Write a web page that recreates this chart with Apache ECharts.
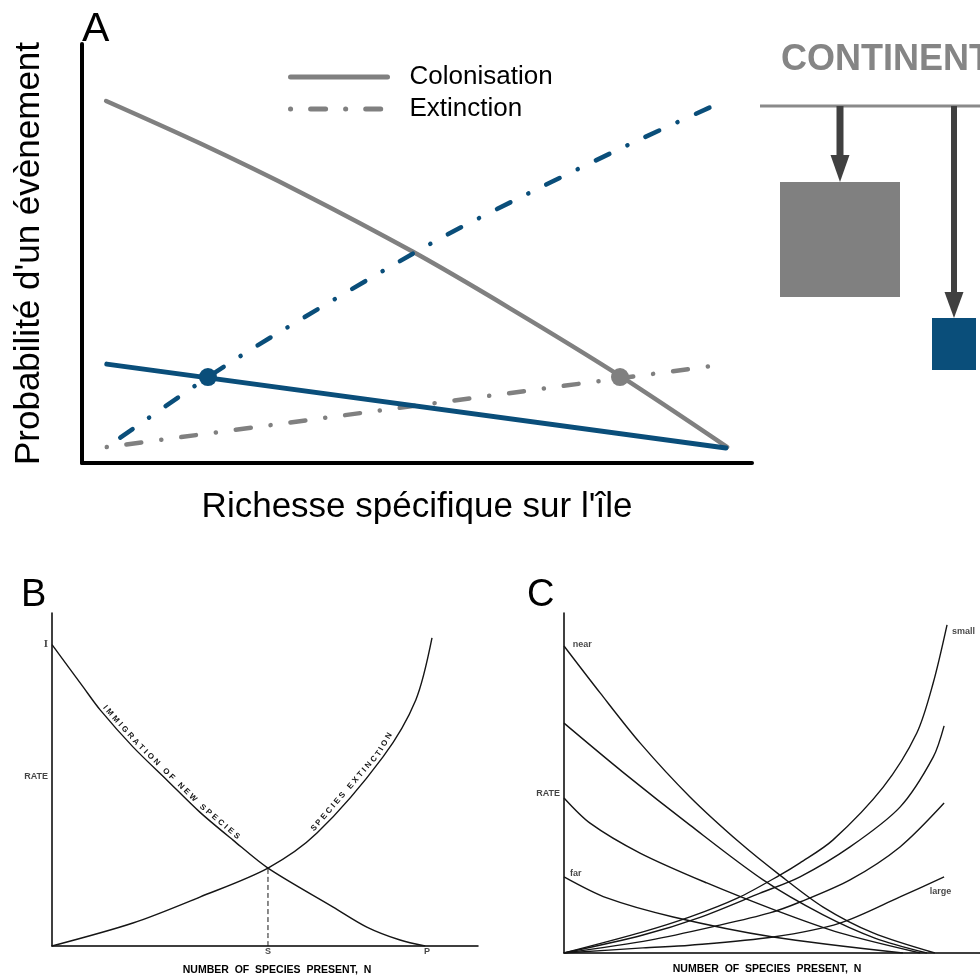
<!DOCTYPE html>
<html lang="fr">
<head>
<meta charset="utf-8">
<title>Biogéographie insulaire</title>
<script src="https://cdn.jsdelivr.net/npm/echarts@6.0.0/dist/echarts.min.js"></script>
<style>
  html, body { margin: 0; padding: 0; background: #fff; }
  #main { width: 980px; height: 977px; }
</style>
</head>
<body>
<div id="main"></div>
<script>
// ---- Panneau A (axes 0..100 sur les deux directions)
var aColGrandeX = [3.6, 17.6, 32.5, 49.4, 64.0, 80.3, 96.3];
var aColGrandeY = [86.4, 76.3, 64.7, 50.4, 36.8, 20.8, 3.8];
var aExtGrandeX = [3.7, 96.1];
var aExtGrandeY = [3.8, 23.6];
var aColPetiteX = [3.7, 96.1];
var aColPetiteY = [23.6, 3.6];
var aExtPetiteX = [3.7, 18.8, 28.5, 52.2, 66.7, 81.5, 93.9];
var aExtPetiteY = [3.8, 20.5, 30.3, 52.5, 64.4, 75.9, 85.0];
var aEquilibreX = [18.8, 80.3];   // petite île, grande île
var aEquilibreY = [20.5, 20.5];

// ---- Panneau B
var bImmX = [0, 7.3, 11.3, 19.0, 27.0, 34.7, 42.5, 50.7, 66.0, 73.9, 81.7, 87.6];
var bImmY = [90.5, 77.8, 70.9, 59.8, 49.8, 40.2, 31.8, 23.4, 11.7, 5.7, 1.8, 0];
var bExtX = [0, 19.0, 34.7, 50.7, 62.2, 77.7, 85.4, 89.2];
var bExtY = [0, 6.9, 14.7, 23.4, 33.9, 56.8, 73.9, 92.5];
var bEquilibre = [50.7, 23.4];
var bReperesX = ['S', 'P'];
var bReperesPos = [50.7, 88];
var bReperesY = ['I', 'RATE'];
var bReperesYPos = [90.5, 50.8];

// ---- Panneau C
var cImmNearX = [0, 8.6, 18.1, 30, 41.9, 51.4, 61.7, 73.6, 88.3];
var cImmNearY = [90.3, 76.5, 61.8, 45.9, 32.4, 22.9, 13.5, 5.9, 0];
var cImm2X = [0, 14.0, 30, 47.4, 61.7, 74, 86.4];
var cImm2Y = [67.6, 53.2, 37.6, 21.5, 11.2, 4.4, 0];
var cImm3X = [0, 6.2, 18.1, 34, 50.7, 65.7, 84.8];
var cImm3Y = [45.6, 38.2, 29.4, 20.6, 12.4, 5.9, 0];
var cImmFarX = [0, 10.2, 26, 49.8, 80.7];
var cImmFarY = [22.4, 16.2, 10.6, 4.7, 0];
var cExtSmallX = [0, 18.8, 30, 41.4, 51.4, 56.2, 64, 76, 84, 87.9, 91.2];
var cExtSmallY = [0, 6.2, 10.6, 16.2, 22.9, 26.5, 33.2, 48.8, 64.7, 79.4, 96.5];
var cExt2X = [0, 18.8, 32.4, 46.7, 56.2, 68.1, 80, 87.9, 90.5];
var cExt2Y = [0, 5.3, 10.5, 17.6, 22.4, 31.2, 42.9, 57.6, 66.8];
var cExt3X = [0, 20.5, 37.1, 49, 56.2, 68.1, 80, 90.5];
var cExt3Y = [0, 3.8, 8.2, 11.8, 15, 21.5, 31.2, 44.1];
var cExtLargeX = [0, 18.8, 30, 49.8, 65.7, 80, 90.5];
var cExtLargeY = [0, 1.5, 2.3, 4.7, 8.8, 16.5, 22.4];
var cEtiquettes = ['near', 'far', 'small', 'large'];
var cEtiqX = [2.1, 1.4, 92.4, 87.1];
var cEtiqY = [90.6, 23.5, 94.7, 18.2];
var cRate = 47;

var BLEU = '#0a4e7a', GRIS = '#808080', ENCRE = '#151515';
var POLICE = '"Liberation Sans", Arial, Helvetica, sans-serif';
var TIRET_POINT = [0.1, 20, 15, 20];

var chart = echarts.init(document.getElementById('main'));

function zip(xs, ys) {
    return xs.map(function (x, i) { return [x, ys[i]]; });
}

// axe sans graduation, juste le trait
function axe(grille, epaisseur, nom, gap, taillePolice, gras, pad) {
    return {
        type: 'value', gridIndex: grille, min: 0, max: 100,
        axisLine: { show: true, onZero: false, lineStyle: { color: '#000', width: epaisseur } },
        axisTick: { show: false }, axisLabel: { show: false }, splitLine: { show: false },
        name: nom, nameLocation: 'middle', nameGap: gap,
        nameTextStyle: { fontFamily: POLICE, fontSize: taillePolice, color: '#000',
                         fontWeight: gras ? 'bold' : 'normal', padding: pad || 0 }
    };
}

function courbe(nom, grille, xs, ys, style) {
    return {
        name: nom, type: 'line', xAxisIndex: grille, yAxisIndex: grille,
        data: zip(xs, ys), smooth: 0.3, symbol: 'none', silent: true,
        lineStyle: style, itemStyle: { color: style.color }
    };
}

var traitB = { color: ENCRE, width: 1.4 };

function reperes(grille, items) {
    return {
        type: 'scatter', xAxisIndex: grille, yAxisIndex: grille, symbolSize: 0, silent: true,
        data: items,
        label: { show: true, formatter: '{b}', color: ENCRE, fontFamily: POLICE,
                 fontWeight: 'bold', fontSize: 9 }
    };
}

var bItems = bReperesX.map(function (n, i) {
    return { name: n, value: [bReperesPos[i], 0], label: { position: 'bottom', distance: 1 } };
}).concat(bReperesY.map(function (n, i) {
    return { name: n, value: [0, bReperesYPos[i]],
             label: { position: 'left', distance: 4,
                      fontFamily: n === 'I' ? '"Liberation Serif", serif' : POLICE,
                      fontSize: n === 'I' ? 11 : 9 } };
}));
var cItems = cEtiquettes.map(function (n, i) {
    return { name: n, value: [cEtiqX[i], cEtiqY[i]], label: { position: 'right', distance: 0 } };
}).concat([{ name: 'RATE', value: [0, cRate], label: { position: 'left', distance: 4 } }]);

// schéma du continent (décor)
var schema = [
    { type: 'text', id: 'continent', x: 781, y: 60, silent: true,
      style: { text: 'CONTINENT', font: 'bold 36px ' + POLICE, fill: '#858585', verticalAlign: 'middle' } },
    { type: 'line', id: 'cote', silent: true, shape: { x1: 760, y1: 106, x2: 990, y2: 106 },
      style: { stroke: '#8a8a8a', lineWidth: 3 } },
    { type: 'line', id: 'fleche1', silent: true, shape: { x1: 840, y1: 106, x2: 840, y2: 160 },
      style: { stroke: '#404040', lineWidth: 7 } },
    { type: 'polygon', id: 'pointe1', silent: true, shape: { points: [[830.5, 155], [849.5, 155], [840, 182]] },
      style: { fill: '#404040' } },
    { type: 'rect', id: 'grandeIle', silent: true, shape: { x: 780, y: 182, width: 120, height: 115 },
      style: { fill: GRIS } },
    { type: 'line', id: 'fleche2', silent: true, shape: { x1: 954, y1: 106, x2: 954, y2: 296 },
      style: { stroke: '#404040', lineWidth: 6 } },
    { type: 'polygon', id: 'pointe2', silent: true, shape: { points: [[944.5, 292], [963.5, 292], [954, 318]] },
      style: { fill: '#404040' } },
    { type: 'rect', id: 'petiteIle', silent: true, shape: { x: 932, y: 318, width: 44, height: 52 },
      style: { fill: BLEU } },
    { type: 'text', id: 'lettreA', x: 82, y: 30, silent: true,
      style: { text: 'A', font: '41px ' + POLICE, fill: '#000', verticalAlign: 'middle' } },
    { type: 'text', id: 'lettreB', x: 21, y: 596, silent: true,
      style: { text: 'B', font: '38px ' + POLICE, fill: '#000', verticalAlign: 'middle' } },
    { type: 'text', id: 'lettreC', x: 527, y: 596, silent: true,
      style: { text: 'C', font: '38px ' + POLICE, fill: '#000', verticalAlign: 'middle' } }
];

var option = {
    backgroundColor: '#fff',
    animation: false,
    grid: [
        { left: 82, top: 44, width: 670, height: 419, outerBoundsMode: 'none' },
        { left: 52, top: 613, width: 426, height: 333, outerBoundsMode: 'none' },
        { left: 564, top: 613, width: 420, height: 340, outerBoundsMode: 'none' }
    ],
    xAxis: [
        axe(0, 4, 'Richesse spécifique sur l\'île', 27, 35, false),
        axe(1, 1.5, 'NUMBER  OF  SPECIES  PRESENT,  N', 19, 10.5, true, [0, 0, 0, 24]),
        axe(2, 1.5, 'NUMBER  OF  SPECIES  PRESENT,  N', 11, 10.5, true, [0, 14, 0, 0])
    ],
    yAxis: [
        axe(0, 4, 'Probabilité d\'un évènement', 35, 35, false),
        axe(1, 1.5, '', 0, 10, false),
        axe(2, 1.5, '', 0, 10, false)
    ],
    legend: {
        data: ['Colonisation', 'Extinction'],
        orient: 'vertical', left: 288, top: 64, padding: 0,
        itemWidth: 97, itemHeight: 14, itemGap: 6,
        selectedMode: false,
        itemStyle: { color: 'rgba(0,0,0,0)', borderWidth: 0 },
        lineStyle: { width: 5 },
        textStyle: { fontFamily: POLICE, fontSize: 26, color: '#000', lineHeight: 26, padding: [0, 0, 0, 17] }
    },
    graphic: schema,
    series: [
        courbe('Colonisation', 0, aColGrandeX, aColGrandeY, { color: GRIS, width: 4.5, cap: 'round' }),
        courbe('Extinction', 0, aExtGrandeX, aExtGrandeY,
               { color: GRIS, width: 4.5, cap: 'round', type: TIRET_POINT }),
        courbe('Colonisation (petite île)', 0, aColPetiteX, aColPetiteY, { color: BLEU, width: 5, cap: 'round' }),
        courbe('Extinction (petite île)', 0, aExtPetiteX, aExtPetiteY,
               { color: BLEU, width: 4.5, cap: 'round', type: TIRET_POINT, dashOffset: 3.5 }),
        {
            name: 'Équilibre', type: 'scatter', xAxisIndex: 0, yAxisIndex: 0, symbolSize: 18, silent: true, z: 5,
            data: zip(aEquilibreX, aEquilibreY).map(function (p, i) {
                return { value: p, itemStyle: { color: i === 0 ? BLEU : GRIS, opacity: 1 } };
            })
        },
        courbe('Immigration', 1, bImmX, bImmY, traitB),
        courbe('Extinction B', 1, bExtX, bExtY, traitB),
        courbe('Ŝ', 1, [bEquilibre[0], bEquilibre[0]], [0, bEquilibre[1]],
               { color: ENCRE, width: 1, type: [5, 3] }),
        reperes(1, bItems),
        courbe('near', 2, cImmNearX, cImmNearY, traitB),
        courbe('imm2', 2, cImm2X, cImm2Y, traitB),
        courbe('imm3', 2, cImm3X, cImm3Y, traitB),
        courbe('far', 2, cImmFarX, cImmFarY, traitB),
        courbe('small', 2, cExtSmallX, cExtSmallY, traitB),
        courbe('ext2', 2, cExt2X, cExt2Y, traitB),
        courbe('ext3', 2, cExt3X, cExt3Y, traitB),
        courbe('large', 2, cExtLargeX, cExtLargeY, traitB),
        reperes(2, cItems)
    ]
};
chart.setOption(option);

// texte écrit le long d'une courbe, lettre par lettre
var mesure = document.createElement('canvas').getContext('2d');
function texteSurCourbe(prefixe, grille, xs, ys, texte, xDebut, xFin, police, ecart) {
    var pts = xs.map(function (x, i) { return chart.convertToPixel({ gridIndex: grille }, [x, ys[i]]); });
    var cum = [0];
    for (var i = 1; i < pts.length; i++) {
        cum.push(cum[i - 1] + Math.hypot(pts[i][0] - pts[i - 1][0], pts[i][1] - pts[i - 1][1]));
    }
    function abscisse(xd) {
        var px = chart.convertToPixel({ gridIndex: grille }, [xd, 0])[0];
        for (var i = 1; i < pts.length; i++) {
            if (px <= pts[i][0]) {
                var t = (px - pts[i - 1][0]) / (pts[i][0] - pts[i - 1][0]);
                return cum[i - 1] + t * (cum[i] - cum[i - 1]);
            }
        }
        return cum[cum.length - 1];
    }
    function pointA(s) {
        for (var i = 1; i < pts.length; i++) {
            if (s <= cum[i] || i === pts.length - 1) {
                var t = (s - cum[i - 1]) / (cum[i] - cum[i - 1]);
                return [pts[i - 1][0] + t * (pts[i][0] - pts[i - 1][0]),
                        pts[i - 1][1] + t * (pts[i][1] - pts[i - 1][1])];
            }
        }
    }
    mesure.font = police;
    var lettres = texte.split('');
    var larg = lettres.map(function (c) { return mesure.measureText(c).width; });
    var total = larg.reduce(function (a, b) { return a + b; }, 0);
    var s0 = abscisse(xDebut), s1 = abscisse(xFin);
    var pas = (s1 - s0 - total) / (lettres.length - 1);
    var s = s0, els = [];
    lettres.forEach(function (c, k) {
        var m = s + larg[k] / 2;
        var p = pointA(m), a = pointA(m - 5), b = pointA(m + 5);
        var tx = b[0] - a[0], ty = b[1] - a[1], n = Math.hypot(tx, ty);
        tx /= n; ty /= n;
        els.push({
            type: 'text', id: prefixe + k, silent: true,
            x: p[0] + ty * ecart, y: p[1] - tx * ecart,
            rotation: -Math.atan2(ty, tx),
            style: { text: c, font: police, fill: ENCRE, align: 'center', verticalAlign: 'bottom' }
        });
        s += larg[k] + pas;
    });
    return els;
}

var textesCourbes = []
    .concat(texteSurCourbe('imm', 1, bImmX, bImmY, 'IMMIGRATION OF NEW SPECIES', 11.3, 43,
                           'bold 8px ' + POLICE, 1.5))
    .concat(texteSurCourbe('ext', 1, bExtX, bExtY, 'SPECIES EXTINCTION', 62, 80.5,
                           'bold 8px ' + POLICE, 1.5));
chart.setOption({ graphic: schema.concat(textesCourbes) });
</script>
</body>
</html>
